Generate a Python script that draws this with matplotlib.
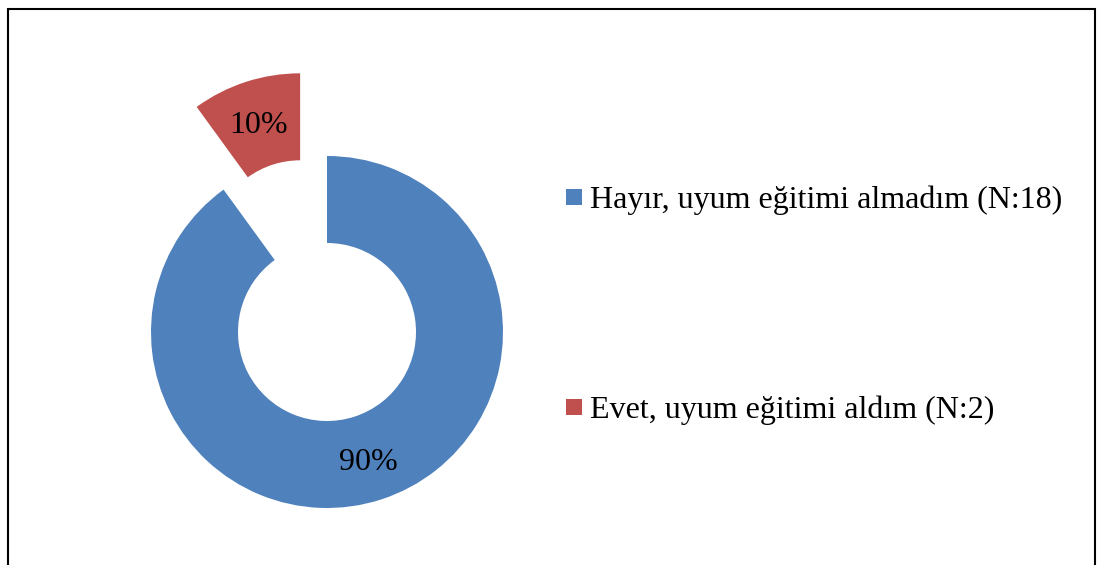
import matplotlib
matplotlib.use("Agg")
import matplotlib.pyplot as plt
from matplotlib.patches import Rectangle

categories = ["Hayır, uyum eğitimi almadım (N:18)", "Evet, uyum eğitimi aldım (N:2)"]
values = [90, 10]
colors = ["#4F81BD", "#C0504D"]

W, H = 1101, 565
fig = plt.figure(figsize=(W / 100, H / 100), dpi=100)
plt.rcParams['font.family'] = ['Liberation Serif', 'DejaVu Serif']

# pie axes: center (327, 332 from top), radius 176 px
cx, cy, R = 327, 332, 176
half = 300
ax = fig.add_axes([(cx - half) / W, (H - cy - half) / H, 2 * half / W, 2 * half / H])
lim = half / R

wedges, texts, autotexts = ax.pie(
    values, colors=colors, startangle=90, counterclock=False,
    explode=[0, 0.494], radius=1,
    wedgeprops=dict(width=1 - 89 / 176, edgecolor='none'),
    autopct=lambda p: f"{p:.0f}%", pctdistance=0.76,
    textprops=dict(fontsize=23, color='black'),
    frame=True,
)
for t in autotexts:
    t.set_va('center_baseline')
ax.set_xlim(-lim, lim)
ax.set_ylim(-lim, lim)
ax.set_aspect('equal')
ax.axis('off')

# legend entries
ys = [197, 407]
for lab, col, y in zip(categories, colors, ys):
    fig.patches.append(Rectangle((566 / W, (H - y - 8) / H), 16 / W, 16 / H,
                                 transform=fig.transFigure, facecolor=col, edgecolor='none'))
    fig.text(590 / W, (H - y) / H, lab, fontsize=23, va='center_baseline', ha='left', color='black')

# chart border
fig.patches.append(Rectangle((8 / W, -20 / H), (1095 - 8) / W, (H - 8.5 + 20) / H,
                             transform=fig.transFigure, facecolor='none',
                             edgecolor='black', linewidth=1.5))

fig.savefig("out.png", dpi=100)
